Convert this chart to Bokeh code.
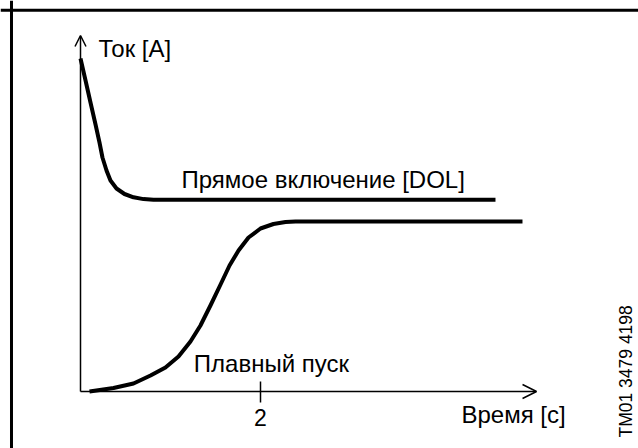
from bokeh.plotting import figure
from bokeh.models import Range1d, LinearAxis, FixedTicker, Arrow, OpenHead, Span, Label
from bokeh.embed import file_html
from bokeh.resources import INLINE
import math

# ---- data (time in s, current in arbitrary units) ----
time_dol = [0.0, 0.056, 0.111, 0.167, 0.211, 0.244, 0.289, 0.333, 0.40, 0.489, 0.589, 0.70, 0.811, 4.611]
current_dol = [3.33, 3.11, 2.89, 2.67, 2.49, 2.34, 2.21, 2.11, 2.03, 1.975, 1.942, 1.924, 1.917, 1.917]

time_soft = [0.10, 0.367, 0.589, 0.778, 0.944, 1.089, 1.222, 1.333, 1.444, 1.556, 1.656, 1.756,
             1.867, 2.0, 2.144, 2.278, 2.389, 4.911]
current_soft = [0.0, 0.035, 0.08, 0.16, 0.24, 0.35, 0.50, 0.66, 0.86, 1.07, 1.26, 1.41,
                1.54, 1.63, 1.675, 1.695, 1.70, 1.70]

x_ticks = [2]
x_axis_end = 5.067
y_axis_end = 3.56

y_title = "Ток [А]"
x_title = "Время [с]"
dol_label = "Прямое включение [DOL]"
soft_label = "Плавный пуск"
code_label = "TM01 3479 4198"

FONT = "Liberation Sans"

p = figure(width=638, height=448, output_backend="svg", toolbar_location=None,
           x_range=Range1d(-0.8889, 6.2), y_range=Range1d(-0.57, 3.91),
           x_axis_location=None, y_axis_location=None, min_border=0)
p.grid.visible = False
p.outline_line_color = None
p.background_fill_color = "white"
p.border_fill_color = "white"

# frame border (top and left edges visible)
p.add_layout(Span(location=-0.7667, dimension="height", line_color="black", line_width=3))
p.add_layout(Span(location=3.813, dimension="width", line_color="black", line_width=3))

# axes with arrows
p.add_layout(Arrow(x_start=0, y_start=0, x_end=0, y_end=y_axis_end, line_width=1.5,
                   end=OpenHead(size=11, line_width=1.5)))
p.add_layout(Arrow(x_start=0, y_start=0, x_end=x_axis_end, y_end=0, line_width=1.5,
                   end=OpenHead(size=14, line_width=1.5)))

xaxis = LinearAxis(fixed_location=0, ticker=FixedTicker(ticks=x_ticks, minor_ticks=[]),
                   axis_line_color=None, major_tick_in=10, major_tick_out=11,
                   major_tick_line_width=1.5, minor_tick_line_color=None,
                   major_label_text_font=FONT, major_label_text_font_size="23px",
                   major_label_text_color="black", major_label_standoff=6)
p.add_layout(xaxis, "below")

# curves
p.line(time_dol, current_dol, line_width=4, line_color="black", line_join="round")
p.line(time_soft, current_soft, line_width=4, line_color="black", line_join="round")

def lab(x, y, text, size="24px", angle=0.0, align="left"):
    p.add_layout(Label(x=x, y=y, text=text, text_font=FONT, text_font_size=size,
                       text_color="black", text_baseline="middle", text_align=align,
                       angle=angle))

lab(0.20, 3.43, y_title)
lab(1.122, 2.125, dol_label)
lab(1.259, 0.28, soft_label)
lab(4.233, -0.23, x_title)
lab(6.056, -0.46, code_label, size="17.5px", angle=math.pi / 2)

open("out.html", "w").write(file_html(p, INLINE))
